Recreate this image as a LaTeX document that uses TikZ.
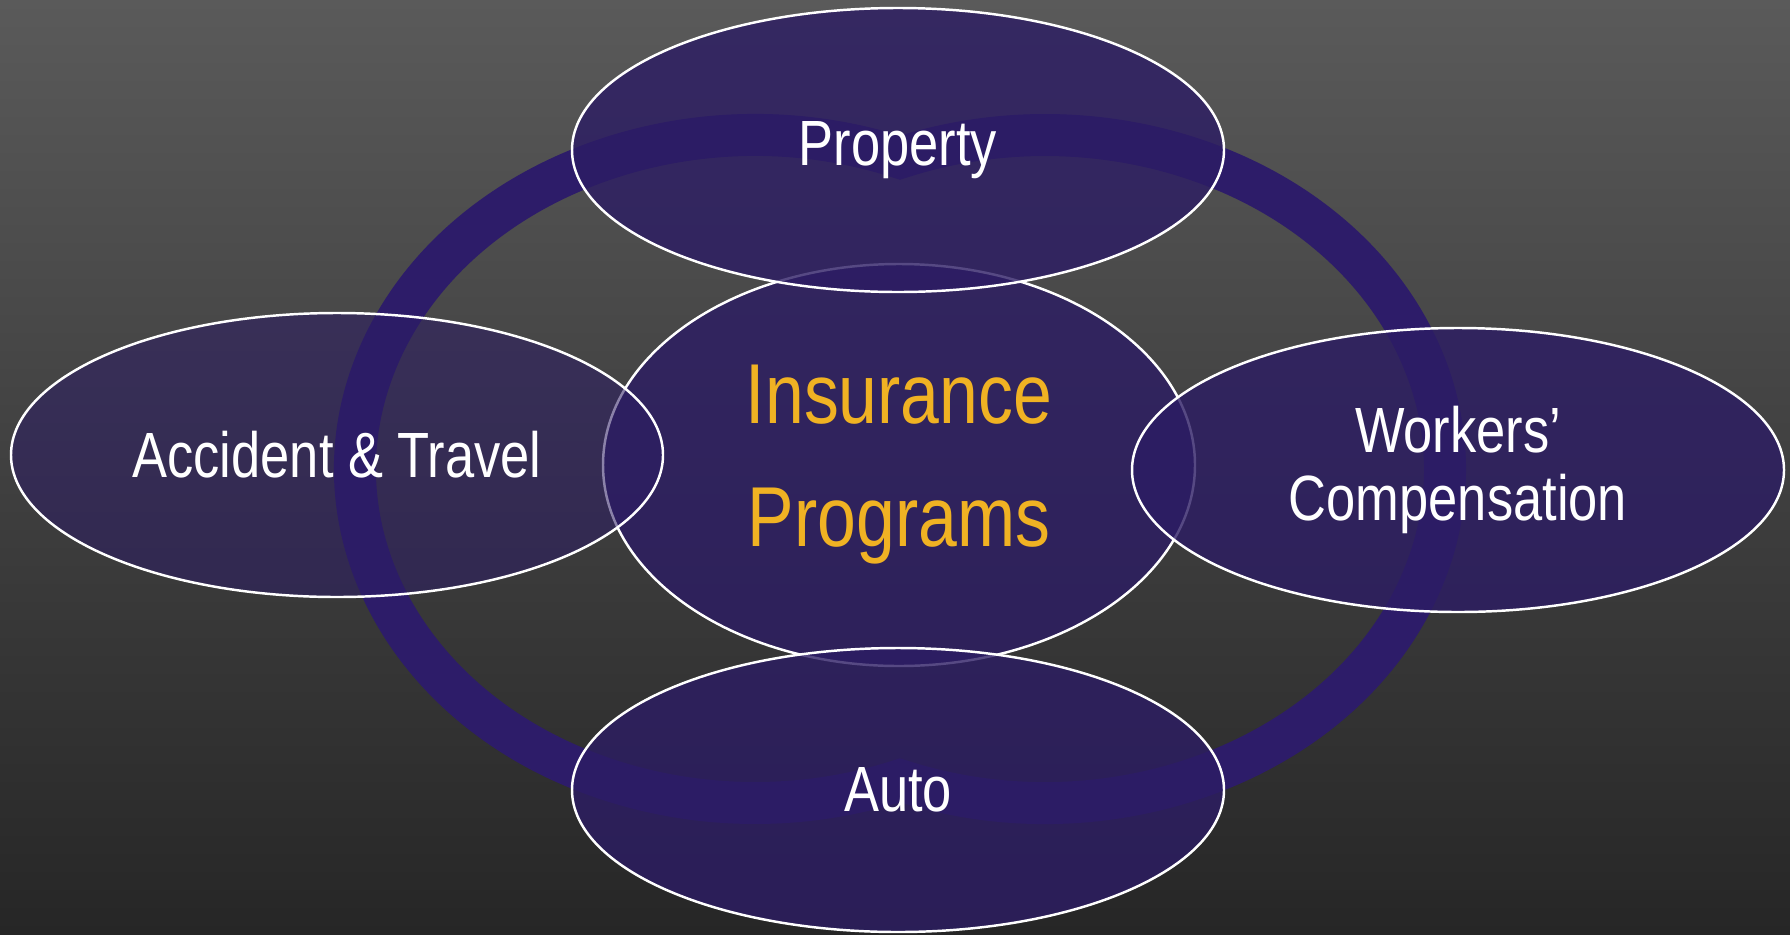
\documentclass[tikz,border=0pt]{standalone}
\usepackage{fontspec}
\setmainfont{Liberation Sans}[FakeStretch=0.82]
\usetikzlibrary{calc,shapes.geometric}
\definecolor{ringpurple}{RGB}{45,28,105}
\definecolor{ovalfill}{RGB}{44,28,100}
\definecolor{labelgold}{RGB}{240,178,35}
\definecolor{bgtop}{RGB}{90,90,90}
\definecolor{bgbottom}{RGB}{38,38,38}

\begin{document}
\begin{tikzpicture}[
  oval/.style={ellipse, draw=white, line width=0.7pt, fill=ovalfill, fill opacity=0.8, text opacity=1, minimum width=6.52cm, minimum height=2.84cm, inner sep=0pt, align=center, text=white, font=\fontsize{18.2}{19.2}\selectfont},
  ring/.style={draw=ringpurple, line width=0.42cm}
]
  \shade[top color=bgtop, bottom color=bgbottom] (0,0) rectangle (17.9,9.34);
  \useasboundingbox (0,0) rectangle (17.9,9.34);
  \coordinate (ringL) at (7.55,4.65);
  \coordinate (ringR) at (10.45,4.65);
  \draw[ring] ($(ringL)+(68.75:4 and 3.34)$) arc[start angle=68.75, end angle=291.25, x radius=4, y radius=3.34]
    arc[start angle=-111.25, end angle=111.25, x radius=4, y radius=3.34] -- cycle;

  \node[oval, minimum width=5.92cm, minimum height=4.02cm, text=labelgold, font=\fontsize{24.2}{35}\selectfont] (core) at (8.99,4.69) {Insurance\\Programs};
  \node[oval] (property) at (8.98,7.84) {Property};
  \node[oval, fill opacity=0.55] (accident) at (3.37,4.79) {Accident \& Travel};
  \node[oval] (workers) at (14.58,4.64) {Workers’\\Compensation};
  \node[oval] (auto) at (8.98,1.44) {Auto};
\end{tikzpicture}
\end{document}
